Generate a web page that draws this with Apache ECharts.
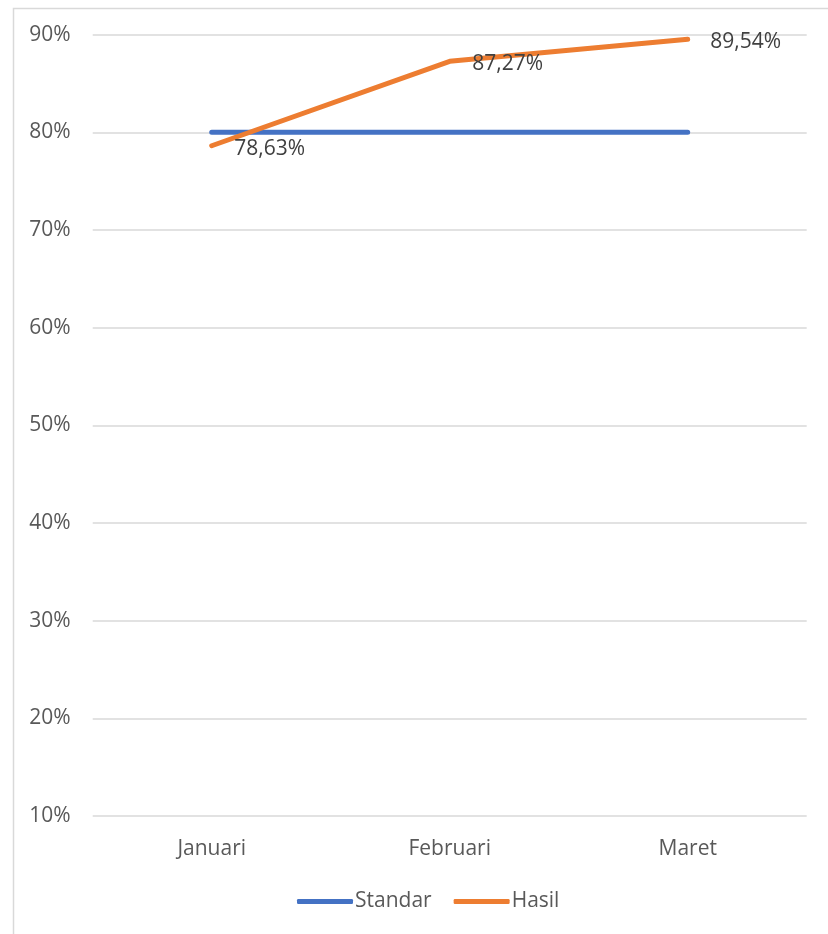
<!DOCTYPE html>
<html>
<head>
<meta charset="utf-8">
<script src="https://cdn.jsdelivr.net/npm/echarts@6/dist/echarts.min.js"></script>
<style>html,body{margin:0;padding:0;background:#fff}#c{width:828px;height:934px}</style>
</head>
<body>
<div id="c"></div>
<script>
var categories = ['Januari', 'Februari', 'Maret'];
var standar = [80, 80, 80];
var hasil = [78.63, 87.27, 89.54];
var yTicks = [10, 20, 30, 40, 50, 60, 70, 80, 90];

var chart = echarts.init(document.getElementById('c'));
var font = '"Open Sans", sans-serif';
chart.setOption({
  animation: false,
  backgroundColor: '#fff',
  graphic: [{
    type: 'rect', left: 11, top: 6, silent: true,
    shape: {width: 840, height: 950},
    style: {fill: 'none', stroke: '#d9d9d9', lineWidth: 1.5}
  }],
  grid: {left: 92.7, right: 21.3, top: 34.7, bottom: 118, containLabel: false},
  legend: {
    data: ['Standar', 'Hasil'],
    bottom: 22, left: 297,
    padding: 0,
    itemWidth: 56, itemHeight: 5, itemGap: 22,
    icon: 'roundRect',
    textStyle: {fontFamily: font, fontSize: 21, color: '#595959', padding: [0, 0, 0, -3]}
  },
  xAxis: {
    type: 'category', data: categories,
    axisLine: {show: false}, axisTick: {show: false},
    axisLabel: {fontFamily: font, fontSize: 21, color: '#595959', margin: 23}
  },
  yAxis: {
    type: 'value', min: yTicks[0], max: yTicks[yTicks.length - 1], interval: 10,
    axisLine: {show: false}, axisTick: {show: false},
    axisLabel: {fontFamily: font, fontSize: 21, color: '#595959', margin: 22, formatter: '{value}%'},
    splitLine: {lineStyle: {color: '#d9d9d9', width: 1.5}}
  },
  series: [{
    name: 'Standar', type: 'line', data: standar,
    symbol: 'none', lineStyle: {color: '#4472C4', width: 5, cap: 'round'},
    itemStyle: {color: '#4472C4'}
  }, {
    name: 'Hasil', type: 'line', data: hasil,
    symbol: 'circle', symbolSize: 1, showSymbol: true,
    lineStyle: {color: '#ED7D31', width: 5, cap: 'round', join: 'round'},
    itemStyle: {color: '#ED7D31'},
    label: {
      show: true, position: 'right', distance: 22, offset: [0, 3],
      fontFamily: font, fontSize: 21, color: '#404040',
      formatter: function (p) { return p.value.toFixed(2).replace('.', ',') + '%'; }
    }
  }]
});
</script>
</body>
</html>
